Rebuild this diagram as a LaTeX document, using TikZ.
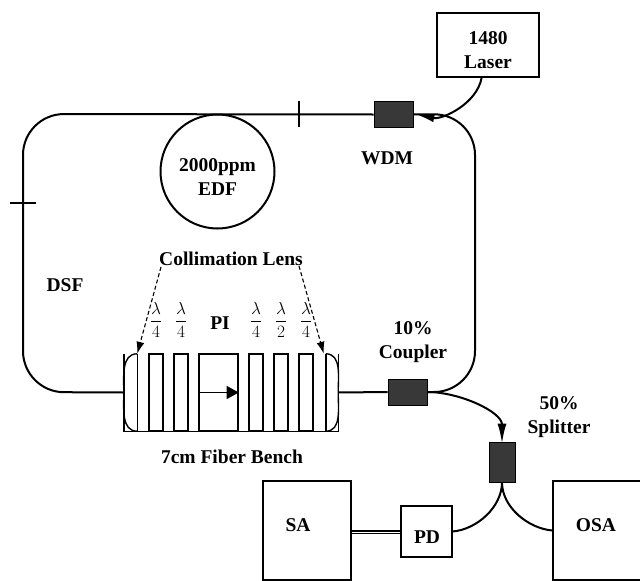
\documentclass[tikz,border=0pt]{standalone}
\usepackage{amsmath}
\usepackage{fontspec}
\setmainfont{Liberation Serif}
\usepackage{tikz}
\usetikzlibrary{arrows.meta,positioning}

\tikzset{
  lbl/.style={font=\fontsize{19.5}{24}\selectfont\bfseries, inner sep=0pt, align=center},
  fracnode/.style={font=\LARGE, inner sep=0pt},
  fiber/.style={line width=2pt},
  box/.style={draw, line width=1.4pt, fill=white, inner sep=0pt},
  dark/.style={draw, line width=0.8pt, fill=black!78, inner sep=0pt},
  plate/.style={draw, line width=1.4pt, inner sep=0pt, minimum height=77pt},
  bigtip/.style={-{Latex[length=20pt,width=9pt]}},
  pointer/.style={line width=1.1pt, dash pattern=on 4pt off 2.5pt}
}

\begin{document}
\begin{tikzpicture}[x=1pt, y=-1pt, node distance=25pt, on grid, auto]
  \useasboundingbox (0,0) rectangle (640,581);

  % loop corners
  \coordinate (c_tl) at (23,114);
  \coordinate (c_bl) at (23,392);
  \coordinate (c_tr) at (475,114);
  \coordinate (c_br) at (475,392);

  % boxes
  \node[box, minimum width=102pt, minimum height=64pt] (laser) at (488,45) {};
  \node[dark, minimum width=39pt, minimum height=26pt] (wdm) at (393.5,114.5) {};
  \node[dark, minimum width=39pt, minimum height=26pt] (coupler) at (407.5,392) {};
  \node[dark, minimum width=26pt, minimum height=40pt] (splitter) at (502,462) {};
  \node[box, minimum width=51pt, minimum height=51pt] (pd) at (426.5,531.5) {};
  \node[box, minimum width=88pt, minimum height=99pt] (sa) at (307,530.5) {};
  \node[box, minimum width=92pt, minimum height=99pt] (osa) at (599,530.5) {};
  \node[circle, draw, line width=2pt, minimum size=114pt, inner sep=0pt] (edf) at (217.5,171.5) {};

  % fiber bench
  \node[minimum width=214pt, minimum height=77pt, inner sep=0pt] (bench) at (231,392.5) {};
  \node[minimum width=13pt, minimum height=77pt, inner sep=0pt] (lens_l) at (130.5,392.5) {};
  \node[minimum width=12pt, minimum height=77pt, inner sep=0pt] (lens_r) at (332,392.5) {};
  \node[plate, minimum width=14pt] (wp_1) at (156,392.5) {};
  \node[plate, minimum width=14pt] (wp_2) [right=of wp_1] {};
  \node[plate, minimum width=39pt] (pi) [right=37.5pt of wp_2] {};
  \node[plate, minimum width=14pt] (wp_3) [right=37.5pt of pi] {};
  \node[plate, minimum width=14pt] (wp_4) [right=of wp_3] {};
  \node[plate, minimum width=14pt] (wp_5) [right=of wp_4] {};
  \draw[line width=1.4pt] (bench.north west) -- (bench.south west) -- (bench.south east) -- (bench.north east);
  \draw[line width=1.4pt] (lens_l.north east) -- (lens_l.south east);
  \draw[line width=1.4pt] (lens_r.north west) -- (lens_r.south west);
  \draw[line width=1.4pt] (lens_l.north east) to[out=180, in=90] (lens_l.west) to[out=-90, in=180] (lens_l.south east);
  \draw[line width=1.4pt] (lens_r.north west) to[out=0, in=90] (lens_r.east) to[out=-90, in=0] (lens_r.south west);
  \draw[line width=1.4pt, -{Triangle[length=12pt,width=13pt]}] (pi.west) -- (pi.east);

  % fiber
  \draw[fiber, rounded corners=41pt] (wdm.west) -- (c_tl) -- (c_bl) -- (bench.west);
  \draw[fiber, rounded corners=41pt] (wdm.east) -- (c_tr) -- (c_br) -- (coupler.east);
  \draw[fiber] (bench.east) -- (coupler.west);
  \path[fiber]
    (laser.259) edge[out=-100, in=-12, -{Latex[length=18pt,width=8pt]}, looseness=0.9] ([xshift=3pt]wdm.east)
    (coupler.east) edge[out=0, in=90, bigtip, looseness=0.9] ([yshift=-2pt]splitter.north)
    (splitter.south) edge[out=-90, in=5, looseness=0.9] (pd.east)
    (splitter.south) edge[out=-90, in=175, looseness=0.9] (osa.west)
    ;
  \draw[line width=1.8pt, double, double distance=0.8pt] (sa.east |- 0,532) -- (pd.west |- 0,532);

  % splices
  \coordinate (sp_t) at (299,114);
  \coordinate (sp_l) at (23,203);
  \draw[line width=1.3pt] ([yshift=-13pt]sp_t) -- ([yshift=13pt]sp_t);
  \draw[line width=1.3pt] ([xshift=-13pt]sp_l) -- ([xshift=13pt]sp_l);

  % labels
  \node[lbl] (t_laser) at (488,50.5) {1480\\Laser};
  \node[lbl] (t_edf) at (217.5,177) {2000ppm\\EDF};
  \node[lbl] (t_wdm) at (387,158) {WDM};
  \node[lbl] (t_dsf) at (65,285) {DSF};
  \node[lbl] (t_coll) at (231,259) {Collimation Lens};
  \node[lbl] (t_pi) at (220,323) {PI};
  \node[lbl] (t_coupler) at (413,342.5) {10\%\\Coupler};
  \node[lbl] (t_split) at (559,417) {50\%\\Splitter};
  \node[lbl] (t_bench) at (232,457) {7cm Fiber Bench};
  \node[lbl] (t_sa) at (298,525) {SA};
  \node[lbl] (t_pd) at (427,537) {PD};
  \node[lbl] (t_osa) at (596,525) {OSA};

  % plates
  \node[fracnode] (f_1) at (156,320) {$\dfrac{\lambda}{4}$};
  \node[fracnode] (f_2) [right=of f_1] {$\dfrac{\lambda}{4}$};
  \node[fracnode] (f_3) at (256,320) {$\dfrac{\lambda}{4}$};
  \node[fracnode] (f_4) [right=of f_3] {$\dfrac{\lambda}{2}$};
  \node[fracnode] (f_5) [right=of f_4] {$\dfrac{\lambda}{4}$};

  % lens pointers
  \coordinate (p_l) at (161,267);
  \coordinate (p_r) at (299,266);
  \draw[pointer, -{Latex[length=12pt,width=8pt]}] (p_l) -- (lens_l.north east);
  \draw[pointer, -{Latex[length=12pt,width=8pt]}] (p_r) -- ([xshift=-2pt]lens_r.north west);
\end{tikzpicture}
\end{document}
